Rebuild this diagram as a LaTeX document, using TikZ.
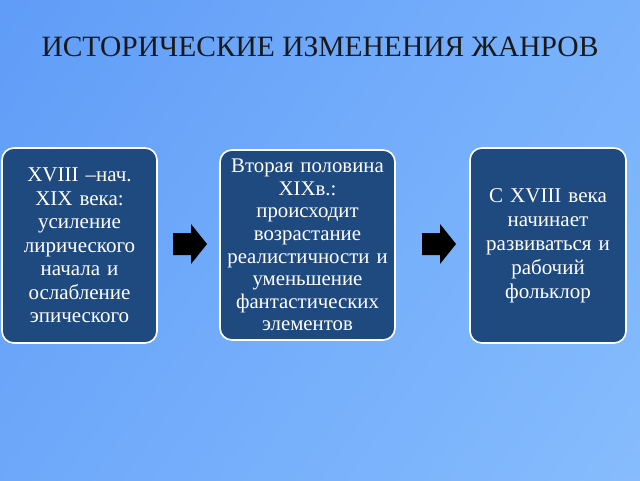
\documentclass[tikz,border=0pt]{standalone}
\usepackage{fontspec}
\setmainfont{Liberation Serif}
\definecolor{bgA}{HTML}{5C99F7}
\definecolor{bgB}{HTML}{8AC0FE}
\definecolor{boxfill}{HTML}{1F4A80}
\tikzset{
  stagebox/.style={draw=white, line width=1.6pt, fill=boxfill, rounded corners=12pt,
    text=white, align=center, inner sep=0pt},
  blockarrow/.style={fill=black, draw=none},
}
\begin{document}
\begin{tikzpicture}[x=1pt,y=-1pt]
\useasboundingbox (0,0) rectangle (640,480);
\shade[shading=axis, left color=bgA, right color=bgB, shading angle=55] (-200,-200) rectangle (840,680);
\node[font=\fontsize{29.5}{33}\selectfont, text=black!90] (title) at (320,47) {ИСТОРИЧЕСКИЕ ИЗМЕНЕНИЯ ЖАНРОВ};

\node[stagebox, font=\fontsize{21}{23.5}\selectfont, minimum width=155pt, minimum height=195pt, text width=152pt] (b1) at (79.5,245.5)
  {XVIII –нач.\\ XIX века:\\ усиление\\ лирического\\ начала и\\ ослабление\\ эпического};
\node[stagebox, font=\fontsize{20.8}{22.6}\selectfont, minimum width=175pt, minimum height=190pt, text width=172pt] (b2) at (307.5,245)
  {Вторая половина\\ XIXв.:\\ происходит\\ возрастание\\ реалистичности и\\ уменьшение\\ фантастических\\ элементов};
\node[stagebox, font=\fontsize{21}{24}\selectfont, minimum width=156pt, minimum height=195pt, text width=152pt] (b3) at (548,245.5)
  {С XVIII века\\ начинает\\ развиваться и\\ рабочий\\ фольклор};

\coordinate (a1) at (173,244);
\coordinate (a2) at (422,244);
\foreach \c in {a1,a2}{
  \fill[blockarrow] ([shift={(0,-11)}]\c) -- ++(18,0) -- ++(0,-9) -- ++(16,20) -- ++(-16,20) -- ++(0,-9) -- ++(-18,0) -- cycle;
}
\end{tikzpicture}
\end{document}
